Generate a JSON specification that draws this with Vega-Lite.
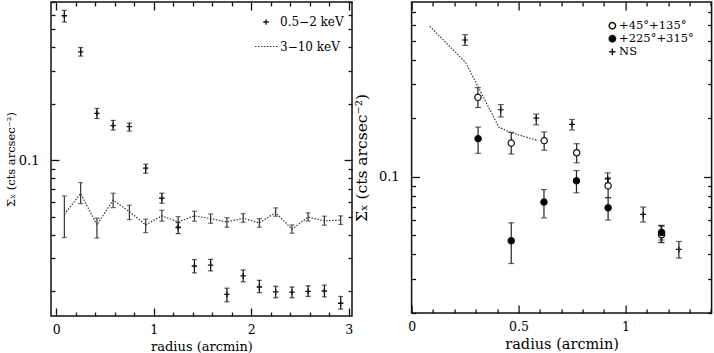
{
  "$schema": "https://vega.github.io/schema/vega-lite/v6.json",
  "padding": {"left": 4, "top": 0, "right": 0, "bottom": 0},
  "background": "white",
  "bounds": "flush",
  "spacing": 59.6,
  "resolve": {
    "scale": {"shape": "independent", "fill": "independent", "strokeDash": "independent"},
    "legend": {"shape": "independent", "fill": "independent", "strokeDash": "independent"}
  },
  "config": {
    "view": {"stroke": "#111", "strokeWidth": 1.5},
    "font": "DejaVu Serif",
    "axis": {
      "grid": false, "domain": false, "tickColor": "#111", "tickWidth": 1.3,
      "labelFont": "DejaVu Serif", "labelFontSize": 12.5, "labelColor": "black",
      "titleFont": "DejaVu Serif", "titleFontWeight": "normal", "titleColor": "black",
      "labelOverlap": false, "labelFlush": false, "labelBound": false
    },
    "legend": {"labelFont": "DejaVu Serif", "labelColor": "black", "padding": 0, "offset": 0}
  },
  "datasets": {
    "soft": [
      {"r": 0.083, "s": 0.591, "lo": 0.547, "hi": 0.631},
      {"r": 0.25, "s": 0.379, "lo": 0.36, "hi": 0.4},
      {"r": 0.417, "s": 0.178, "lo": 0.167, "hi": 0.189},
      {"r": 0.583, "s": 0.153, "lo": 0.145, "hi": 0.163},
      {"r": 0.75, "s": 0.151, "lo": 0.143, "hi": 0.158},
      {"r": 0.917, "s": 0.0906, "lo": 0.0852, "hi": 0.0952},
      {"r": 1.083, "s": 0.0626, "lo": 0.0589, "hi": 0.0666},
      {"r": 1.25, "s": 0.0436, "lo": 0.0405, "hi": 0.0464},
      {"r": 1.417, "s": 0.0272, "lo": 0.025, "hi": 0.0294},
      {"r": 1.583, "s": 0.0275, "lo": 0.0256, "hi": 0.0295},
      {"r": 1.75, "s": 0.0192, "lo": 0.0175, "hi": 0.0207},
      {"r": 1.917, "s": 0.0241, "lo": 0.0224, "hi": 0.0259},
      {"r": 2.083, "s": 0.021, "lo": 0.0196, "hi": 0.0228},
      {"r": 2.25, "s": 0.0198, "lo": 0.0184, "hi": 0.0212},
      {"r": 2.417, "s": 0.0197, "lo": 0.0184, "hi": 0.021},
      {"r": 2.583, "s": 0.0199, "lo": 0.0187, "hi": 0.0213},
      {"r": 2.75, "s": 0.02, "lo": 0.0186, "hi": 0.0215},
      {"r": 2.917, "s": 0.0172, "lo": 0.016, "hi": 0.0187}
    ],
    "hard": [
      {"r": 0.083, "s": 0.0514, "lo": 0.0386, "hi": 0.0644},
      {"r": 0.25, "s": 0.0663, "lo": 0.0586, "hi": 0.0759},
      {"r": 0.417, "s": 0.0451, "lo": 0.0384, "hi": 0.049},
      {"r": 0.583, "s": 0.0611, "lo": 0.0558, "hi": 0.0666},
      {"r": 0.75, "s": 0.0531, "lo": 0.0481, "hi": 0.0574},
      {"r": 0.917, "s": 0.0451, "lo": 0.041, "hi": 0.0484},
      {"r": 1.083, "s": 0.0504, "lo": 0.0472, "hi": 0.054},
      {"r": 1.25, "s": 0.0468, "lo": 0.0442, "hi": 0.0499},
      {"r": 1.417, "s": 0.0504, "lo": 0.0472, "hi": 0.0534},
      {"r": 1.583, "s": 0.0487, "lo": 0.046, "hi": 0.0516},
      {"r": 1.75, "s": 0.0468, "lo": 0.0438, "hi": 0.0493},
      {"r": 1.917, "s": 0.0489, "lo": 0.0466, "hi": 0.0518},
      {"r": 2.083, "s": 0.0462, "lo": 0.0438, "hi": 0.0487},
      {"r": 2.25, "s": 0.0525, "lo": 0.0502, "hi": 0.0556},
      {"r": 2.417, "s": 0.0428, "lo": 0.0407, "hi": 0.0451},
      {"r": 2.583, "s": 0.0496, "lo": 0.0474, "hi": 0.0523},
      {"r": 2.75, "s": 0.0474, "lo": 0.0449, "hi": 0.0502},
      {"r": 2.917, "s": 0.0478, "lo": 0.0453, "hi": 0.0504}
    ],
    "ns": [
      {"r": 0.25, "s": 0.504, "lo": 0.473, "hi": 0.537},
      {"r": 0.417, "s": 0.221, "lo": 0.203, "hi": 0.235},
      {"r": 0.583, "s": 0.2, "lo": 0.185, "hi": 0.21},
      {"r": 0.75, "s": 0.186, "lo": 0.174, "hi": 0.197},
      {"r": 0.917, "s": 0.0977, "lo": 0.093, "hi": 0.1048},
      {"r": 1.083, "s": 0.0641, "lo": 0.0586, "hi": 0.07},
      {"r": 1.167, "s": 0.0514, "lo": 0.046, "hi": 0.0563},
      {"r": 1.25, "s": 0.0424, "lo": 0.0383, "hi": 0.0466}
    ],
    "open": [
      {"r": 0.31, "s": 0.256, "lo": 0.227, "hi": 0.287},
      {"r": 0.466, "s": 0.149, "lo": 0.131, "hi": 0.169},
      {"r": 0.62, "s": 0.1535, "lo": 0.137, "hi": 0.17},
      {"r": 0.772, "s": 0.133, "lo": 0.118, "hi": 0.148},
      {"r": 0.919, "s": 0.0899, "lo": 0.078, "hi": 0.0988},
      {"r": 1.169, "s": 0.0504, "lo": 0.046, "hi": 0.0558}
    ],
    "filled": [
      {"r": 0.311, "s": 0.157, "lo": 0.132, "hi": 0.18},
      {"r": 0.466, "s": 0.047, "lo": 0.0359, "hi": 0.0581},
      {"r": 0.619, "s": 0.0742, "lo": 0.0616, "hi": 0.086},
      {"r": 0.771, "s": 0.0954, "lo": 0.0828, "hi": 0.1077},
      {"r": 0.919, "s": 0.0693, "lo": 0.06, "hi": 0.0783},
      {"r": 1.169, "s": 0.0518, "lo": 0.0474, "hi": 0.0563}
    ],
    "model": [
      {"r": 0.085, "s": 0.593},
      {"r": 0.253, "s": 0.386},
      {"r": 0.408, "s": 0.18},
      {"r": 0.463, "s": 0.169},
      {"r": 0.587, "s": 0.154}
    ]
  },
  "hconcat": [
    {
      "width": 301,
      "height": 314,
      "resolve": {"axis": {"x": "independent", "y": "independent"}},
      "layer": [
        {
          "data": {"name": "hard"},
          "mark": {"type": "errorbar", "ticks": {"size": 5}, "thickness": 1.2, "color": "#333"},
          "encoding": {
            "x": {"field": "r", "type": "quantitative",
              "scale": {"domain": [-0.054, 3.033], "nice": false, "zero": false},
              "axis": {"orient": "bottom", "values": [0, 0.2, 0.4, 0.6, 0.8, 1, 1.2, 1.4, 1.6, 1.8, 2, 2.2, 2.4, 2.6, 2.8, 3],
                "labelExpr": "datum.value % 1 == 0 ? format(datum.value, 'd') : ''",
                "labelFontSize": {"condition": {"test": "datum.value % 1 == 0", "value": 12.5}, "value": 0},
                "tickSize": {"condition": {"test": "datum.value % 1 == 0", "value": -8}, "value": -4},
                "labelPadding": 15, "title": "radius (arcmin)", "titleFontSize": 13, "titlePadding": 5}},
            "y": {"field": "lo", "type": "quantitative",
              "scale": {"type": "log", "domain": [0.0147, 0.7], "nice": false},
              "axis": {"orient": "left", "values": [0.02, 0.03, 0.04, 0.05, 0.06, 0.07, 0.08, 0.09, 0.1, 0.2, 0.3, 0.4, 0.5, 0.6, 0.7],
                "labelExpr": "datum.value == 0.1 ? '0.1' : ''",
                "labelFontSize": {"condition": {"test": "datum.value == 0.1", "value": 13}, "value": 0},
                "tickSize": {"condition": {"test": "datum.value == 0.1", "value": -8}, "value": -4},
                "labelPadding": 20, "title": "Σₓ (cts arcsec⁻²)", "titleFontSize": 11.5, "titlePadding": 2}},
            "y2": {"field": "hi"}
          }
        },
        {
          "data": {"name": "soft"},
          "mark": {"type": "errorbar", "ticks": {"size": 5}, "thickness": 1.2, "color": "#111"},
          "encoding": {
            "x": {"field": "r", "type": "quantitative",
              "scale": {"domain": [-0.054, 3.033], "nice": false, "zero": false},
              "axis": {"orient": "top", "values": [0, 0.2, 0.4, 0.6, 0.8, 1, 1.2, 1.4, 1.6, 1.8, 2, 2.2, 2.4, 2.6, 2.8, 3],
                "labels": false, "title": null,
                "tickSize": {"condition": {"test": "datum.value % 1 == 0", "value": -8}, "value": -4}}},
            "y": {"field": "lo", "type": "quantitative",
              "scale": {"type": "log", "domain": [0.0147, 0.7], "nice": false},
              "axis": {"orient": "right", "values": [0.02, 0.03, 0.04, 0.05, 0.06, 0.07, 0.08, 0.09, 0.1, 0.2, 0.3, 0.4, 0.5, 0.6, 0.7],
                "labels": false, "title": null,
                "tickSize": {"condition": {"test": "datum.value == 0.1", "value": -8}, "value": -4}}},
            "y2": {"field": "hi"}
          }
        },
        {
          "data": {"name": "hard"},
          "mark": {"type": "line", "strokeWidth": 1.2, "color": "#333"},
          "encoding": {
            "x": {"field": "r", "type": "quantitative", "scale": {"domain": [-0.054, 3.033], "nice": false, "zero": false}, "axis": null},
            "y": {"field": "s", "type": "quantitative", "scale": {"type": "log", "domain": [0.0147, 0.7], "nice": false}, "axis": null},
            "strokeDash": {"datum": "3−10 keV", "scale": {"range": [[1.5, 1.5]]},
              "legend": {"orient": "none", "legendX": 203, "legendY": 32, "title": null, "symbolType": "stroke", "symbolSize": 529,
                "symbolStrokeColor": "#333", "symbolStrokeWidth": 1.2, "labelOffset": 1, "labelFontSize": 12}}
          }
        },
        {
          "data": {"name": "soft"},
          "mark": {"type": "point", "shape": "M-1,0H1M0,-1V1", "size": 30, "strokeWidth": 1.3, "color": "#111", "opacity": 1},
          "encoding": {
            "x": {"field": "r", "type": "quantitative", "scale": {"domain": [-0.054, 3.033], "nice": false, "zero": false}, "axis": null},
            "y": {"field": "s", "type": "quantitative", "scale": {"type": "log", "domain": [0.0147, 0.7], "nice": false}, "axis": null},
            "shape": {"datum": "0.5−2 keV", "scale": {"range": ["M-1,0H1M0,-1V1"]},
              "legend": {"orient": "none", "legendX": 209, "legendY": 14, "title": null, "symbolSize": 30,
                "symbolStrokeColor": "#111", "symbolStrokeWidth": 1.3, "labelOffset": 8, "labelFontSize": 12}}
          }
        }
      ]
    },
    {
      "width": 300,
      "height": 311,
      "resolve": {"axis": {"x": "independent", "y": "independent"}},
      "layer": [
        {
          "data": {"name": "ns"},
          "mark": {"type": "errorbar", "ticks": {"size": 6}, "thickness": 1.2, "color": "#222"},
          "encoding": {
            "x": {"field": "r", "type": "quantitative",
              "scale": {"domain": [0, 1.403], "nice": false, "zero": false},
              "axis": {"orient": "bottom", "values": [0, 0.1, 0.2, 0.3, 0.4, 0.5, 0.6, 0.7, 0.8, 0.9, 1, 1.1, 1.2, 1.3, 1.4],
                "labelExpr": "datum.value == 0 || datum.value == 0.5 || datum.value == 1 ? format(datum.value, '~g') : ''",
                "labelFontSize": {"condition": {"test": "datum.value == 0 || datum.value == 0.5 || datum.value == 1", "value": 12.5}, "value": 0},
                "tickSize": {"condition": {"test": "datum.value == 0 || datum.value == 0.5 || datum.value == 1", "value": -8}, "value": -4},
                "labelPadding": 15, "title": "radius (arcmin)", "titleFontSize": 14.5, "titlePadding": 5}},
            "y": {"field": "lo", "type": "quantitative",
              "scale": {"type": "log", "domain": [0.02, 0.79], "nice": false},
              "axis": {"orient": "left", "values": [0.02, 0.03, 0.04, 0.05, 0.06, 0.07, 0.08, 0.09, 0.1, 0.2, 0.3, 0.4, 0.5, 0.6, 0.7],
                "labelExpr": "datum.value == 0.1 ? '0.1' : ''",
                "labelFontSize": {"condition": {"test": "datum.value == 0.1", "value": 13}, "value": 0},
                "tickSize": {"condition": {"test": "datum.value == 0.1", "value": -8}, "value": -4},
                "labelPadding": 20.5, "title": "Σₓ (cts arcsec⁻²)", "titleFontSize": 15.5, "titlePadding": 9}},
            "y2": {"field": "hi"}
          }
        },
        {
          "data": {"name": "open"},
          "mark": {"type": "errorbar", "ticks": {"size": 6}, "thickness": 1.2, "color": "#222"},
          "encoding": {
            "x": {"field": "r", "type": "quantitative",
              "scale": {"domain": [0, 1.403], "nice": false, "zero": false},
              "axis": {"orient": "top", "values": [0, 0.1, 0.2, 0.3, 0.4, 0.5, 0.6, 0.7, 0.8, 0.9, 1, 1.1, 1.2, 1.3, 1.4],
                "labels": false, "title": null,
                "tickSize": {"condition": {"test": "datum.value == 0 || datum.value == 0.5 || datum.value == 1", "value": -8}, "value": -4}}},
            "y": {"field": "lo", "type": "quantitative",
              "scale": {"type": "log", "domain": [0.02, 0.79], "nice": false},
              "axis": {"orient": "right", "values": [0.02, 0.03, 0.04, 0.05, 0.06, 0.07, 0.08, 0.09, 0.1, 0.2, 0.3, 0.4, 0.5, 0.6, 0.7],
                "labels": false, "title": null,
                "tickSize": {"condition": {"test": "datum.value == 0.1", "value": -8}, "value": -4}}},
            "y2": {"field": "hi"}
          }
        },
        {
          "data": {"name": "filled"},
          "mark": {"type": "errorbar", "ticks": {"size": 6}, "thickness": 1.2, "color": "#222"},
          "encoding": {
            "x": {"field": "r", "type": "quantitative", "scale": {"domain": [0, 1.403], "nice": false, "zero": false}, "axis": null},
            "y": {"field": "lo", "type": "quantitative", "scale": {"type": "log", "domain": [0.02, 0.79], "nice": false}, "axis": null},
            "y2": {"field": "hi"}
          }
        },
        {
          "data": {"name": "model"},
          "mark": {"type": "line", "strokeWidth": 1.2, "color": "#333", "strokeDash": [1.5, 1.5]},
          "encoding": {
            "x": {"field": "r", "type": "quantitative", "scale": {"domain": [0, 1.403], "nice": false, "zero": false}, "axis": null},
            "y": {"field": "s", "type": "quantitative", "scale": {"type": "log", "domain": [0.02, 0.79], "nice": false}, "axis": null}
          }
        },
        {
          "data": {"name": "ns"},
          "mark": {"type": "point", "size": 36, "strokeWidth": 1.2, "stroke": "#111", "filled": true, "opacity": 1},
          "encoding": {
            "x": {"field": "r", "type": "quantitative", "scale": {"domain": [0, 1.403], "nice": false, "zero": false}, "axis": null},
            "y": {"field": "s", "type": "quantitative", "scale": {"type": "log", "domain": [0.02, 0.79], "nice": false}, "axis": null},
            "shape": {"datum": "NS", "scale": {"domain": ["+45°+135°", "+225°+315°", "NS"], "range": ["circle", "circle", "M-1,0H1M0,-1V1"]},
              "legend": {"orient": "none", "legendX": 195, "legendY": 18, "title": null, "symbolSize": 40,
                "labelOffset": 1, "labelFontSize": 11.5, "rowPadding": 0,
                "encode": {"symbols": {"update": {"stroke": {"value": "#111"}, "strokeWidth": {"value": 1.2}}}}}},
            "fill": {"datum": "NS", "scale": {"domain": ["+45°+135°", "+225°+315°", "NS"], "range": ["white", "black", "black"]},
              "legend": {"orient": "none", "legendX": 195, "legendY": 18, "title": null, "symbolSize": 40,
                "labelOffset": 1, "labelFontSize": 11.5, "rowPadding": 0,
                "encode": {"symbols": {"update": {"stroke": {"value": "#111"}, "strokeWidth": {"value": 1.2}}}}}}
          }
        },
        {
          "data": {"name": "open"},
          "mark": {"type": "point", "size": 40, "strokeWidth": 1.2, "stroke": "#111", "filled": true, "opacity": 1},
          "encoding": {
            "x": {"field": "r", "type": "quantitative", "scale": {"domain": [0, 1.403], "nice": false, "zero": false}, "axis": null},
            "y": {"field": "s", "type": "quantitative", "scale": {"type": "log", "domain": [0.02, 0.79], "nice": false}, "axis": null},
            "shape": {"datum": "+45°+135°"},
            "fill": {"datum": "+45°+135°"}
          }
        },
        {
          "data": {"name": "filled"},
          "mark": {"type": "point", "size": 40, "strokeWidth": 1.2, "stroke": "#111", "filled": true, "opacity": 1},
          "encoding": {
            "x": {"field": "r", "type": "quantitative", "scale": {"domain": [0, 1.403], "nice": false, "zero": false}, "axis": null},
            "y": {"field": "s", "type": "quantitative", "scale": {"type": "log", "domain": [0.02, 0.79], "nice": false}, "axis": null},
            "shape": {"datum": "+225°+315°"},
            "fill": {"datum": "+225°+315°"}
          }
        }
      ]
    }
  ]
}
